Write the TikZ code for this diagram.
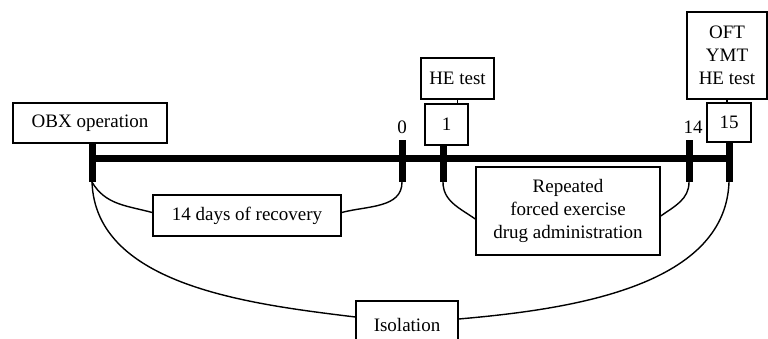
\documentclass[tikz,border=0pt]{standalone}
\usepackage{fontspec}
\setmainfont{Liberation Serif}
\usepackage{tikz}
\usetikzlibrary{calc}
\tikzset{box/.style={draw, line width=1.4pt, inner sep=0pt, align=center, font=\fontsize{19}{23}\selectfont}}
\tikzset{lbl/.style={inner sep=0pt, font=\fontsize{19}{23}\selectfont}}
\newcommand{\daytick}[4]{ \coordinate (#1t) at ( #2 , #3 ); \coordinate (#1b) at ( #2 , #4 ); \draw[line width=7pt] (#1t) -- (#1b);}

\begin{document}
\begin{tikzpicture}[x=1pt,y=-1pt]
        \useasboundingbox (0,0) rectangle (768,338);
        % boxes
        \node[box, minimum width=154pt, minimum height=40pt] (obx) at (90,123) {OBX operation};
        \node[box, minimum width=73pt, minimum height=41pt] (he) at (457.5,78.5) {HE test};
        \node[box, minimum width=43pt, minimum height=41pt] (one) at (446.5,124.5) {1};
        \node[box, minimum width=44pt, minimum height=39pt] (fifteen) at (729,122.5) {15};
        \node[box, minimum width=80pt, minimum height=87pt] (tests) at (727,55.5) {OFT\\YMT\\HE test};
        \node[box, minimum width=188pt, minimum height=41pt] (recovery) at (247,215.5) {14 days of recovery};
        \node[box, minimum width=184pt, minimum height=88pt] (repeated) at (568,211) {Repeated\\forced exercise\\drug administration};
        \node[box, minimum width=102pt, minimum height=48pt] (isolation) at (407,325) {Isolation};
        % day numbers
        \node[lbl] (zero) at (402,127) {0};
        \node[lbl] (fourteen) at (693,127) {14};
        % time line
        \daytick{A}{92}{143}{182}
        \daytick{B}{402}{140}{182}
        \daytick{C}{443}{145}{182}
        \daytick{D}{689}{140}{182}
        \daytick{E}{729}{142}{182}
        \draw[line width=7pt] (92,158) -- (729,158);
        % links of boxes
        \draw[line width=1.4pt] (one.north -| he.south) -- (he.south);
        \draw[line width=1.4pt] (fifteen.north -| tests.south) -- (tests.south);
        % arcs
        \draw[line width=1.4pt] (Ab) to[out=-60,in=165] ($(recovery.west)+(0,-3)$);
        \draw[line width=1.4pt] (Bb) to[out=-90,in=15] ($(recovery.east)+(0,-3)$);
        \draw[line width=1.4pt] (Cb) to[out=-90,in=145] ($(repeated.west)+(0,8)$);
        \draw[line width=1.4pt] (Db) to[out=-90,in=35] ($(repeated.east)+(0,5)$);
        \draw[line width=1.4pt] (Ab) to[out=-88,in=173,looseness=0.9] ($(isolation.west)+(0,-8)$);
        \draw[line width=1.4pt] (Eb) to[out=-92,in=5,looseness=0.9] ($(isolation.east)+(0,-6)$);
\end{tikzpicture}
\end{document}
